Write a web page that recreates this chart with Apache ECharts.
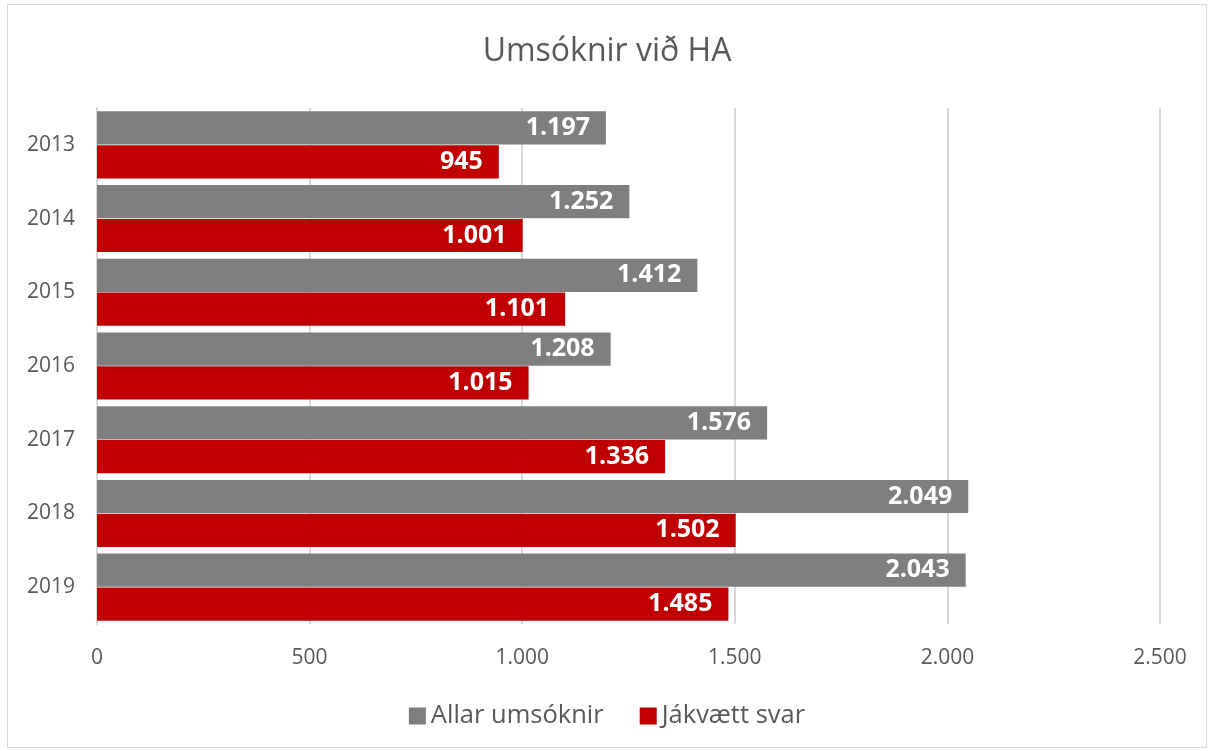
<!DOCTYPE html>
<html>
<head>
<meta charset="utf-8">
<script src="https://cdn.jsdelivr.net/npm/echarts@6/dist/echarts.min.js"></script>
<style>
  html, body { margin: 0; padding: 0; background: #fff; }
  #chart { position: absolute; left: 7px; top: 4px; width: 1200px; height: 744px; border: 1px solid #d9d9d9; box-sizing: border-box; }
</style>
</head>
<body>
<div id="chart"></div>
<script>
const years = ['2013', '2014', '2015', '2016', '2017', '2018', '2019'];
const allarUmsoknir = [1197, 1252, 1412, 1208, 1576, 2049, 2043];
const jakvaettSvar = [945, 1001, 1101, 1015, 1336, 1502, 1485];
const xTicks = [0, 500, 1000, 1500, 2000, 2500];

const fmt = (v) => String(v).replace(/\B(?=(\d{3})+(?!\d))/g, '.');
const font = '"Open Sans", sans-serif';

const chart = echarts.init(document.getElementById('chart'));

const barLabel = {
  show: true,
  position: 'insideRight',
  distance: 16,
  color: '#fff',
  fontWeight: 'bold',
  fontSize: 25,
  fontFamily: font,
  formatter: (p) => fmt(p.value),
};

chart.setOption({
  animation: false,
  title: {
    text: 'Umsóknir við HA',
    left: 'center',
    top: 26,
    textStyle: { fontSize: 32, fontWeight: 'normal', color: '#595959', fontFamily: font },
  },
  legend: {
    data: ['Allar umsóknir', 'Jákvætt svar'],
    bottom: 13,
    itemWidth: 17,
    itemHeight: 17,
    itemGap: 36,
    icon: 'rect',
    textStyle: { fontSize: 25.5, color: '#595959', fontFamily: font },
  },
  grid: { left: 89, right: 46, top: 103, bottom: 123, containLabel: false },
  xAxis: {
    type: 'value',
    min: xTicks[0],
    max: xTicks[xTicks.length - 1],
    interval: 500,
    axisLine: { show: false },
    axisTick: { show: false },
    splitLine: { lineStyle: { color: '#d9d9d9', width: 2 } },
    axisLabel: { fontSize: 21, color: '#595959', fontFamily: font, margin: 24, formatter: (v) => fmt(v) },
  },
  yAxis: {
    type: 'category',
    data: years,
    inverse: true,
    axisLine: { show: true, lineStyle: { color: '#d9d9d9', width: 2 } },
    axisTick: { show: false },
    axisLabel: { fontSize: 21, color: '#595959', fontFamily: font, margin: 22 },
  },
  series: [
    {
      name: 'Allar umsóknir',
      type: 'bar',
      data: allarUmsoknir,
      itemStyle: { color: '#7f7f7f' },
      barGap: '2%',
      barCategoryGap: '9%',
      label: barLabel,
    },
    {
      name: 'Jákvætt svar',
      type: 'bar',
      data: jakvaettSvar,
      itemStyle: { color: '#c00000' },
      barGap: '2%',
      barCategoryGap: '9%',
      label: barLabel,
    },
  ],
});
</script>
</body>
</html>
